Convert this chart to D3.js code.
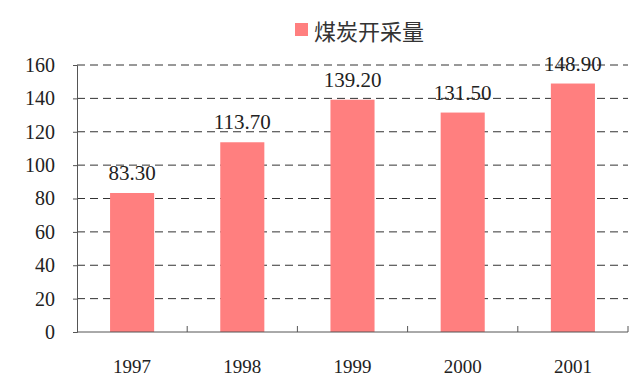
<!DOCTYPE html>
<html><head><meta charset="utf-8">
<script src="https://cdn.jsdelivr.net/npm/d3@7"></script>
<style>body{margin:0;background:#fff}svg{display:block}
.serif{font-family:"Liberation Serif","Times New Roman",Times,"DejaVu Serif",serif}
</style>
</head><body>
<svg id="c" width="640" height="383"></svg>
<script>
const categories = ["1997","1998","1999","2000","2001"];
const values = [83.30, 113.70, 139.20, 131.50, 148.90];
const valueLabels = ["83.30","113.70","139.20","131.50","148.90"];
const yTicks = [0,20,40,60,80,100,120,140,160];
const seriesName = "煤炭开采量";

const svg = d3.select("#c");
const m = {left:77, right:628, top:65, bottom:332};
const x = d3.scaleBand().domain(categories).range([m.left, m.right]).paddingInner(0.6).paddingOuter(0.3);
const xb = d3.scaleBand().domain(categories).range([m.left, m.right]);
const y = d3.scaleLinear().domain([0,160]).range([m.bottom, m.top]);

// gridlines
svg.append("g").selectAll("line").data(yTicks.filter(d=>d>0)).join("line")
  .attr("x1", m.left).attr("x2", m.right)
  .attr("y1", d=>y(d)).attr("y2", d=>y(d))
  .attr("stroke", "#333").attr("stroke-width", 1).attr("stroke-dasharray", "8,5");

// bars
svg.append("g").selectAll("rect").data(values).join("rect")
  .attr("x", (d,i)=>x(categories[i])).attr("width", x.bandwidth())
  .attr("y", d=>y(d)).attr("height", d=>y(0)-y(d))
  .attr("fill", "#FF7F7F");

// value labels
svg.append("g").selectAll("text").data(values).join("text")
  .attr("class", "serif")
  .attr("x", (d,i)=>x(categories[i]) + x.bandwidth()/2)
  .attr("y", d=>y(d) - 13)
  .attr("text-anchor", "middle")
  .style("font-size", "21px").attr("fill", "#222")
  .text((d,i)=>valueLabels[i]);

// y axis
const ya = svg.append("g").attr("transform", `translate(${m.left},0)`)
  .call(d3.axisLeft(y).tickValues(yTicks).tickSize(4).tickPadding(18));
ya.attr("font-family", null).attr("font-size", null);
ya.select(".domain").attr("stroke", "#555");
ya.selectAll(".tick line").attr("stroke", "#555");
ya.selectAll(".tick text").attr("class", "serif").style("font-size", "20px").attr("fill", "#222");

// x axis line + boundary ticks
svg.append("line").attr("x1", m.left).attr("x2", m.right).attr("y1", y(0)).attr("y2", y(0))
  .attr("stroke", "#555");
const bounds = categories.map(c=>xb(c)+xb.bandwidth());
svg.append("g").selectAll("line").data(bounds).join("line")
  .attr("x1", d=>d).attr("x2", d=>d).attr("y1", y(0)).attr("y2", y(0)-6)
  .attr("stroke", "#555");
svg.append("g").selectAll("text").data(categories).join("text")
  .attr("class", "serif")
  .attr("x", d=>xb(d)+xb.bandwidth()/2).attr("y", y(0)+41)
  .attr("text-anchor", "middle")
  .style("font-size", "19px").attr("fill", "#222")
  .text(d=>d);

// legend
svg.append("rect").attr("x", 295).attr("y", 23).attr("width", 13).attr("height", 13).attr("fill", "#FF7F7F");
svg.append("text").attr("x", 314).attr("y", 30).attr("dominant-baseline", "central")
  .style("font-family", "'Noto Sans CJK SC',sans-serif").style("font-size", "22px").attr("fill", "#333")
  .text(seriesName);
</script>
</body></html>
